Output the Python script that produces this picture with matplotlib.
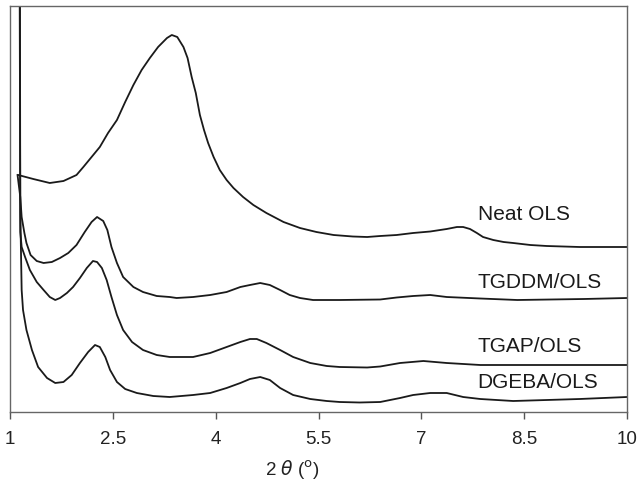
import matplotlib
matplotlib.use("Agg")
from matplotlib import pyplot as plt

# XRD patterns, intensity in arbitrary units (curves already offset)
neat_x = [1.12, 1.34, 1.58, 1.78, 1.97, 2.07, 2.19, 2.31, 2.43, 2.56, 2.68, 2.80,
          2.92, 3.04, 3.16, 3.29, 3.36, 3.44, 3.53, 3.59, 3.65, 3.71, 3.77, 3.83,
          3.89, 3.97, 4.06, 4.16, 4.26, 4.40, 4.55, 4.74, 4.99, 5.23, 5.47, 5.72,
          6.00, 6.21, 6.40, 6.64, 6.88, 7.13, 7.37, 7.52, 7.61, 7.71, 7.81, 7.90,
          8.05, 8.20, 8.34, 8.59, 8.83, 9.31, 10.0]
neat_y = [237, 233, 229, 231, 237, 245, 255, 265, 279, 292, 310, 327,
          342, 354, 365, 374, 377, 375, 365, 354, 335, 319, 297, 282,
          269, 255, 242, 232, 224, 215, 207, 199, 190, 184, 180, 177,
          175.5, 175, 176, 177, 179, 180.5, 183, 185, 185, 183, 179, 175,
          172, 170, 169, 167, 166, 165, 165]

tgddm_x = [1.11, 1.15, 1.17, 1.21, 1.24, 1.30, 1.39, 1.49, 1.61, 1.73, 1.85, 1.97,
           2.09, 2.19, 2.27, 2.36, 2.42, 2.48, 2.56, 2.65, 2.80, 2.94, 3.14, 3.33,
           3.43, 3.67, 3.92, 4.16, 4.36, 4.50, 4.65, 4.79, 4.94, 5.08, 5.23, 5.42,
           5.81, 6.40, 6.64, 6.88, 7.13, 7.37, 7.86, 8.40, 9.37, 10.0]
tgddm_y = [237, 215, 195, 179, 169, 157, 151, 149, 150, 154, 159, 167,
           180, 190, 195, 191, 182, 165, 149, 135, 125, 120, 116, 115,
           114, 115, 117, 120, 125, 127, 129, 127, 122, 117, 114, 112,
           112, 112.5, 114.5, 116, 117, 115, 113.5, 112, 113, 114]

tgap_x = [1.14, 1.15, 1.17, 1.22, 1.29, 1.39, 1.49, 1.58, 1.66, 1.73, 1.83, 1.92,
          2.02, 2.12, 2.21, 2.27, 2.34, 2.41, 2.48, 2.56, 2.65, 2.78, 2.94, 3.14,
          3.33, 3.43, 3.67, 3.92, 4.16, 4.36, 4.50, 4.60, 4.74, 4.94, 5.13, 5.38,
          5.62, 5.81, 6.21, 6.40, 6.69, 7.03, 7.37, 7.86, 10.0]
tgap_y = [700, 180, 165, 155, 142, 130, 122, 115, 112, 114, 119, 125,
          134, 144, 151, 150, 144, 132, 115, 97, 82, 70, 62, 57,
          55, 55, 55, 59, 65, 70, 73, 73, 69, 62, 55, 49,
          46, 45, 44.5, 45.5, 49, 51, 49, 47, 47]

dgeba_x = [1.13, 1.15, 1.17, 1.19, 1.24, 1.32, 1.41, 1.54, 1.66, 1.78, 1.90, 2.02,
           2.14, 2.24, 2.31, 2.39, 2.46, 2.56, 2.68, 2.85, 3.09, 3.33, 3.67, 3.92,
           4.16, 4.36, 4.50, 4.65, 4.79, 4.94, 5.13, 5.38, 5.62, 5.81, 6.10, 6.40,
           6.69, 6.88, 7.13, 7.37, 7.61, 7.86, 8.34, 8.83, 9.31, 10.0]
dgeba_y = [700, 200, 122, 102, 82, 62, 45, 34, 29, 30, 37, 49,
           60, 67, 65, 55, 42, 30, 23, 19, 16, 15, 17, 19,
           24, 29, 33, 35, 32, 24, 17, 13, 11, 10, 9.5, 10,
           14, 17, 19, 19, 15, 13, 11, 12, 13, 15]

series = [("Neat OLS", neat_x, neat_y, 197),
          ("TGDDM/OLS", tgddm_x, tgddm_y, 129),
          ("TGAP/OLS", tgap_x, tgap_y, 65),
          ("DGEBA/OLS", dgeba_x, dgeba_y, 29)]

ticks = [1, 2.5, 4, 5.5, 7, 8.5, 10]
tick_labels = ["1", "2.5", "4", "5.5", "7", "8.5", "10"]

plt.rcParams['font.family'] = ['Liberation Sans', 'DejaVu Sans']

fig = plt.figure(figsize=(6.37, 4.82), dpi=100)
ax = fig.add_axes([10/637, 70/482, 617/637, 406/482])

for name, xs, ys, label_y in series:
    ax.plot(xs, ys, color='#1a1a1a', linewidth=1.3, solid_joinstyle='round')
    ax.text(7.82, label_y, name, fontsize=15, color='#1a1a1a', va='center', ha='left')

ax.set_xlim(1, 10)
ax.set_ylim(0, 406)
ax.set_xticks(ticks)
ax.set_xticklabels(tick_labels, fontsize=13.5, color='#222222')
ax.set_yticks([])
ax.tick_params(axis='x', direction='out', length=5, width=1, color='#555555', pad=9)
for sp in ax.spines.values():
    sp.set_color('#666666')
    sp.set_linewidth(1.0)

ax.set_xlabel(r'2 $\theta$ ($^{\rm o}$)', fontsize=13.5, color='#222222', va='center')
ax.xaxis.set_label_coords(0.457, -0.143)

fig.savefig('out.png', dpi=100)
